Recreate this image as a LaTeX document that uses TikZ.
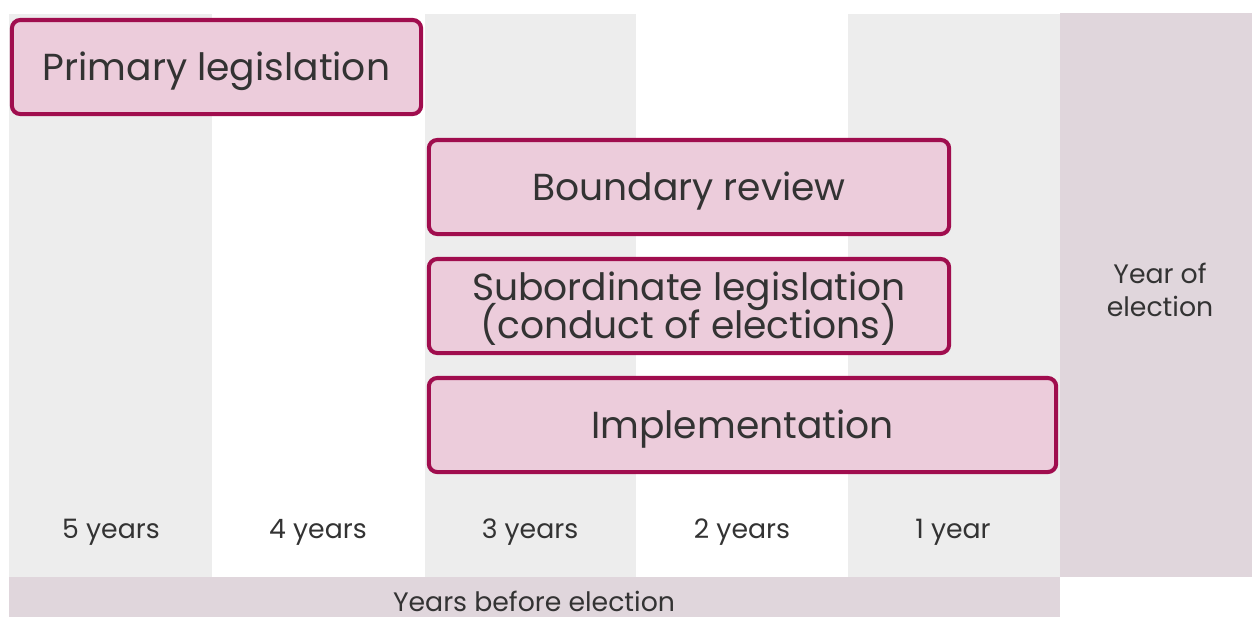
\documentclass[tikz,border=0pt]{standalone}
\usepackage{fontspec}
\setmainfont{Poppins}
\definecolor{boxline}{HTML}{A00D4E}
\definecolor{boxfill}{HTML}{ECCCDB}
\definecolor{stripe}{HTML}{EDEDED}
\definecolor{mauve}{HTML}{E0D6DC}
\definecolor{ink}{HTML}{333333}
\newcommand{\stagefont}{\fontsize{10.7}{10.8}\selectfont\lineskiplimit-10pt\relax}

\begin{document}
\begin{tikzpicture}[x=0.01cm,y=-0.01cm]
    \tikzstyle{stage}=[draw=boxline,line width=1.15pt,fill=boxfill,rounded corners=2.4pt,
        text=ink,align=center,inner sep=0pt,minimum height=0.94cm,
        text height=7.7pt,text depth=0pt,font=\stagefont]
    \tikzstyle{year}=[text=ink,inner sep=0pt,align=center,font=\fontsize{7.6}{9.6}\selectfont]

    \def\T{14}
    \def\B{577}

    \useasboundingbox (0,0) rectangle (1252,617);

    % column stripes
    \fill[stripe] (9,\T) rectangle (212,\B);
    \fill[stripe] (425,\T) rectangle (636,\B);
    \fill[stripe] (848,\T) rectangle (1060,\B);
    \fill[mauve] (1060,13) rectangle (1252,\B);
    \fill[mauve] (9,\B) rectangle (1060,617);

    % stages
    \node[stage,minimum width=4.09cm] (prim)  at (216.5,67)  {Primary legislation};
    \node[stage,minimum width=5.20cm] (bound) at (689,187)   {Boundary review};
    \node[stage,minimum width=5.20cm,text height=18.2pt] (subl) at (689,306)
        {Subordinate legislation\\(conduct of elections)};
    \node[stage,minimum width=6.27cm] (impl)  at (742.5,425) {Implementation};

    % years
    \node[year] (y5) at (111,532) {5 years};
    \node[year] (y4) at (318,532) {4 years};
    \node[year] (y3) at (530,532) {3 years};
    \node[year] (y2) at (742,532) {2 years};
    \node[year] (y1) at (953,532) {1 year};
    \node[year] (ye) at (1160,290) {Year of\\election};
    \node[year] (yb) at (534,601) {Years before election};
\end{tikzpicture}
\end{document}
